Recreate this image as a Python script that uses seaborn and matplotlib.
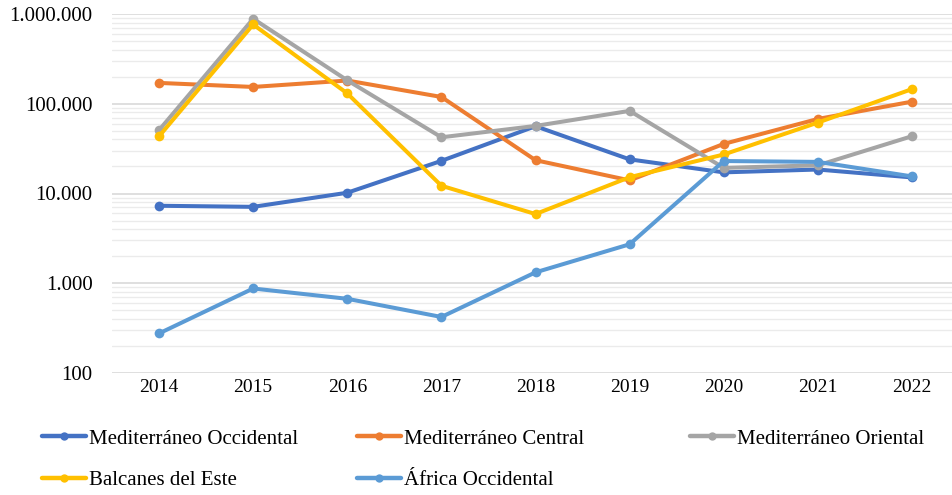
import numpy as np
import pandas as pd
import matplotlib
matplotlib.use("Agg")
import matplotlib.pyplot as plt
import seaborn as sns
from matplotlib.ticker import FixedLocator, FuncFormatter, LogLocator, NullFormatter

years = ["2014", "2015", "2016", "2017", "2018", "2019", "2020", "2021", "2022"]
routes = ["Mediterráneo Occidental", "Mediterráneo Central", "Mediterráneo Oriental",
          "Balcanes del Este", "África Occidental"]
med_occidental = [7300, 7100, 10200, 23100, 56200, 24000, 17200, 18500, 15100]
med_central = [170700, 153900, 181500, 119000, 23500, 14000, 35700, 67700, 105600]
med_oriental = [50800, 885400, 182300, 42300, 56600, 83300, 19300, 20600, 43500]
balcanes_este = [43400, 764000, 130300, 12200, 5900, 15200, 27200, 61700, 145600]
africa_occ = [276, 874, 671, 421, 1323, 2718, 23000, 22500, 15500]
colors = ["#4472C4", "#ED7D31", "#A5A5A5", "#FFC000", "#5B9BD5"]
ytick_vals = [100, 1000, 10000, 100000, 1000000]

series = [med_occidental, med_central, med_oriental, balcanes_este, africa_occ]
rows = []
for r, vals in zip(routes, series):
    for i, v in enumerate(vals):
        rows.append({"idx": i, "valor": v, "ruta": r})
df = pd.DataFrame(rows)

sns.set_theme(style="white")
plt.rcParams["font.family"] = ["Liberation Serif", "DejaVu Serif"]

fig = plt.figure(figsize=(9.52, 4.95), dpi=100)
ax = fig.add_axes([112 / 952, (495 - 373) / 495, (952 - 112) / 952, 359 / 495])

sns.lineplot(data=df, x="idx", y="valor", hue="ruta", hue_order=routes,
             palette=colors, marker="o", markersize=7, markeredgewidth=0,
             linewidth=2.9, ax=ax, legend=True)

ax.set_yscale("log")
ax.set_ylim(100, 1000000)
ax.set_xlim(-0.5, 8 + 40 / 94.1)
ax.yaxis.set_major_locator(FixedLocator(ytick_vals))
ax.yaxis.set_major_formatter(FuncFormatter(lambda v, p: f"{int(round(v)):,}".replace(",", ".")))
ax.yaxis.set_minor_locator(LogLocator(base=10, subs=np.arange(2, 10)))
ax.yaxis.set_minor_formatter(NullFormatter())
ax.set_xticks(range(len(years)))
ax.set_xticklabels(years)
ax.grid(which="major", axis="y", color="#d9d9d9", linewidth=1.2)
ax.grid(which="minor", axis="y", color="#ebebeb", linewidth=1.0)
ax.grid(which="major", axis="x", visible=False)
ax.set_axisbelow(True)
for s in ax.spines.values():
    s.set_visible(False)
ax.tick_params(axis="both", which="both", length=0, colors="#000000")
ax.tick_params(axis="y", labelsize=15, pad=14)
ax.tick_params(axis="x", labelsize=14, pad=4)
ax.set_xlabel("")
ax.set_ylabel("")

handles, labels = ax.get_legend_handles_labels()
ax.get_legend().remove()
for h in handles:
    h.set_linewidth(3.2)
    h.set_markersize(6)

groups = [([0, 3], 42), ([1, 4], 357), ([2], 690)]
for idxs, xpx in groups:
    leg = fig.legend([handles[i] for i in idxs], [labels[i] for i in idxs],
                     loc="upper left", bbox_to_anchor=(xpx / 952, 1 - 429 / 495),
                     ncol=1, frameon=False, fontsize=15, handlelength=2.1,
                     handletextpad=0.15, labelspacing=1.05,
                     borderaxespad=0, borderpad=0)
    for t in leg.get_texts():
        t.set_color("#000000")

fig.savefig("out.png", dpi=100)
